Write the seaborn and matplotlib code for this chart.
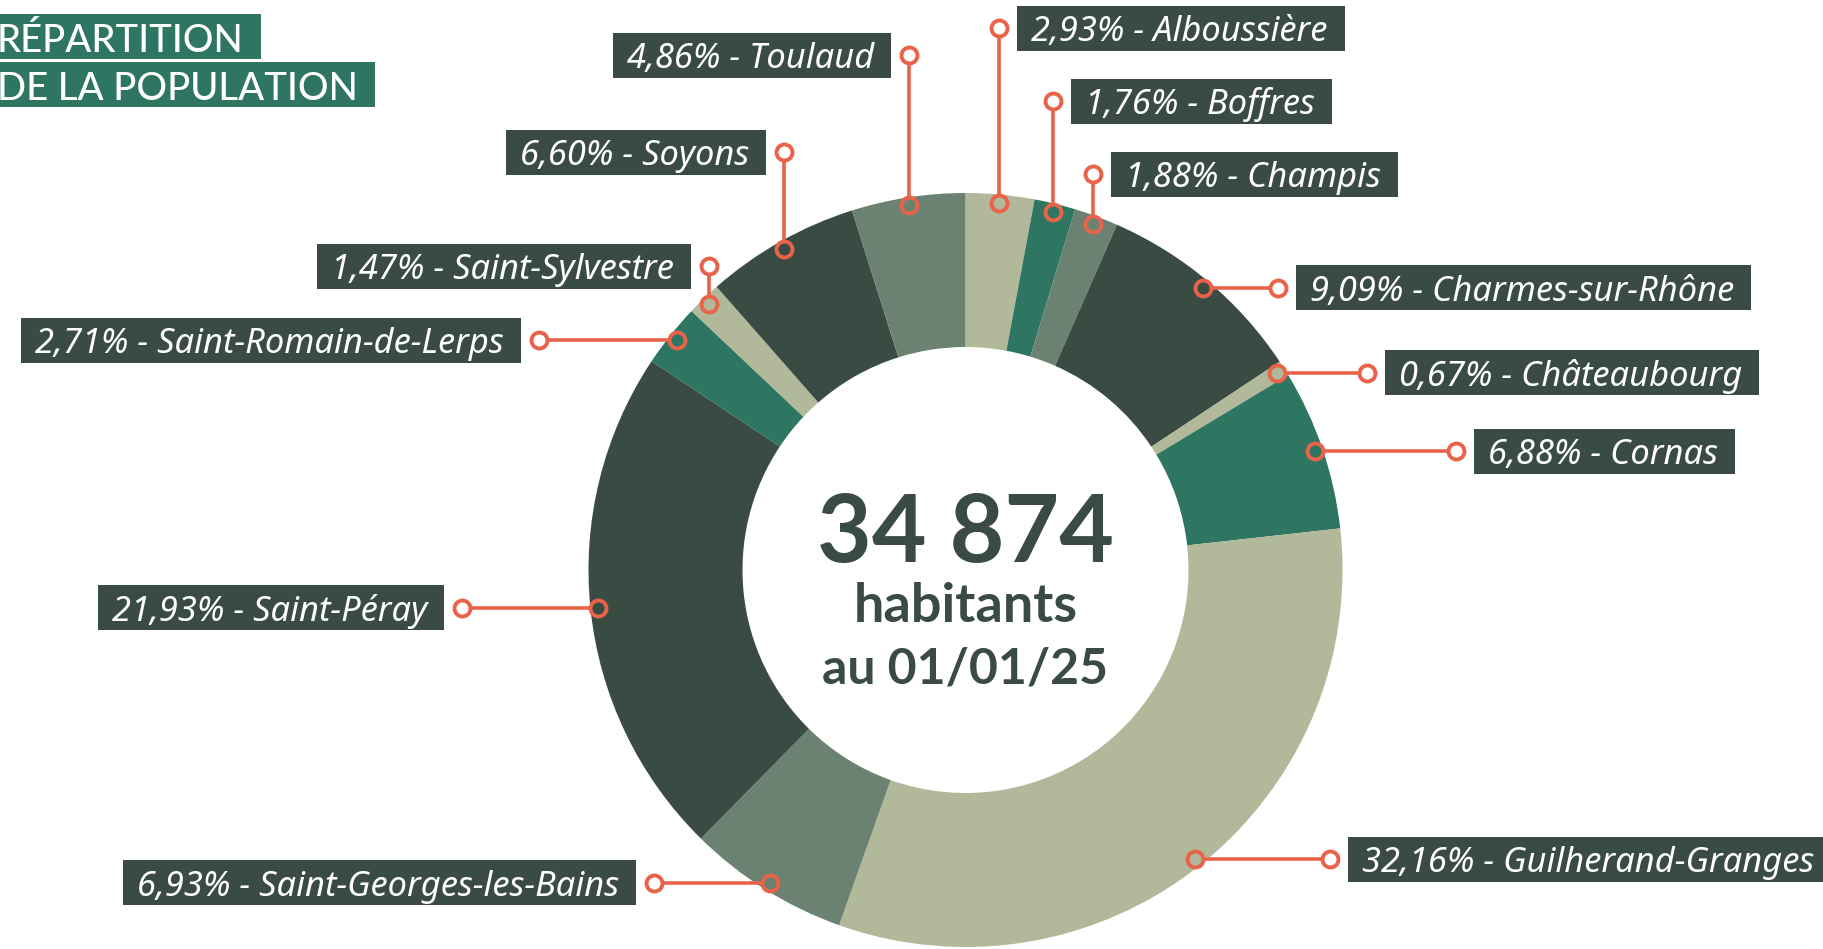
import numpy as np
import matplotlib
matplotlib.use("Agg")
import matplotlib.pyplot as plt
from matplotlib.patches import Rectangle
import seaborn as sns

# données (part de la population par commune, %)
communes = ["Alboussière", "Boffres", "Champis", "Charmes-sur-Rhône", "Châteaubourg",
            "Cornas", "Guilherand-Granges", "Saint-Georges-les-Bains", "Saint-Péray",
            "Saint-Romain-de-Lerps", "Saint-Sylvestre", "Soyons", "Toulaud"]
shares = [2.93, 1.76, 1.88, 9.09, 0.67, 6.88, 32.16, 6.93, 21.93, 2.71, 1.47, 6.60, 4.86]
total_pop = "34 874"
center_lines = ["habitants", "au 01/01/25"]
title_lines = ["RÉPARTITION", "DE LA POPULATION"]

# couleurs
DARK = "#3a4b44"
TEAL = "#2e7562"
GREY = "#6b8272"
SAGE = "#b1b99a"
ORANGE = "#e8634a"
slice_colors = [SAGE, TEAL, GREY, DARK, SAGE, TEAL, SAGE, GREY, DARK, TEAL, SAGE, DARK, GREY]

# mise en page (pixels de l'image, y vers le bas)
W, H = 1824, 949
CX, CY, R_OUT, R_IN, R_DOT = 965.5, 570, 377, 223, 369
# ('v', y du rond) = trait vertical ; ('h', x du rond) = trait horizontal
layout = [("v", 28), ("v", 101), ("v", 174), ("h", 1278), ("h", 1367), ("h", 1456),
          ("h", 1330), ("h", 654), ("h", 462), ("h", 539), ("v", 266), ("v", 152), ("v", 55)]

sns.set_theme(style="white")
plt.rcParams["font.family"] = ["Lato", "DejaVu Sans"]

fig = plt.figure(figsize=(W / 100, H / 100), dpi=100)
ax = fig.add_axes([0, 0, 1, 1])

# axe y inversé : startangle=-90 + counterclock=True => départ en haut, sens horaire
ax.pie(shares, colors=slice_colors, startangle=-90, counterclock=True,
       radius=R_OUT, center=(CX, CY),
       wedgeprops=dict(width=R_OUT - R_IN, linewidth=0))
ax.set_xlim(0, W)
ax.set_ylim(H, 0)
ax.set_aspect("equal")
ax.axis("off")

# points au milieu de chaque part
shares_arr = np.array(shares)
mids = (np.cumsum(shares_arr) - shares_arr / 2) / shares_arr.sum() * 2 * np.pi
dots_x = CX + R_DOT * np.sin(mids)
dots_y = CY - R_DOT * np.cos(mids)

label_font = dict(fontsize=24.8, style="italic", fontweight="normal",
                  family=["Noto Sans", "DejaVu Sans"], color="white", zorder=6)

labels = []
for i, (mode, pos) in enumerate(layout):
    dx, dy = dots_x[i], dots_y[i]
    if mode == "v":
        ex, ey = dx, pos
        right = dx > CX
    else:
        ex, ey = pos, dy
        right = ex > dx
    ax.plot([dx, ex], [dy, ey], color=ORANGE, lw=2.6, solid_capstyle="butt", zorder=3)
    ax.plot(ex, ey, "o", ms=11.5, mfc="white", mec=ORANGE, mew=2.8, zorder=4)
    ax.plot(dx, dy, "o", ms=11.5, mfc=slice_colors[i], mec=ORANGE, mew=2.8, zorder=4)

    txt = f"{shares[i]:.2f}".replace(".", ",") + "% - " + communes[i]
    if right:
        t = ax.text(ex + 18 + 14, ey + 13, txt, ha="left", va="baseline", **label_font)
    else:
        t = ax.text(ex - 18 - 17, ey + 13, txt, ha="right", va="baseline", **label_font)
    labels.append((t, ex, ey, right))

# titre
title_texts = []
for line, base in zip(title_lines, [52, 100]):
    t = ax.text(-3, base, line, ha="left", va="baseline", color="white",
                fontsize=27.5, fontweight="medium", zorder=6)
    title_texts.append((t, base))

# texte central
ax.text(CX, 562, total_pop, ha="center", va="baseline", color=DARK, fontsize=68, fontweight="bold")
ax.text(CX, 622, center_lines[0], ha="center", va="baseline", color=DARK, fontsize=39, fontweight="bold")
ax.text(CX, 683, center_lines[1], ha="center", va="baseline", color=DARK, fontsize=36, fontweight="bold")

# cadres des étiquettes, dimensionnés sur le texte
renderer = fig.canvas.get_renderer()
for t, ex, ey, right in labels:
    w = t.get_window_extent(renderer).width
    if right:
        left = ex + 18
    else:
        left = ex - 18 - 17 - w - 14
    ax.add_patch(Rectangle((left, ey - 22.5), w + 31, 45, facecolor=DARK, edgecolor="none", zorder=5))

for t, base in title_texts:
    w = t.get_window_extent(renderer).width
    ax.add_patch(Rectangle((0, base - 38), w + 14, 45, facecolor=TEAL, edgecolor="none", zorder=5))

fig.savefig("out.png", dpi=100)
